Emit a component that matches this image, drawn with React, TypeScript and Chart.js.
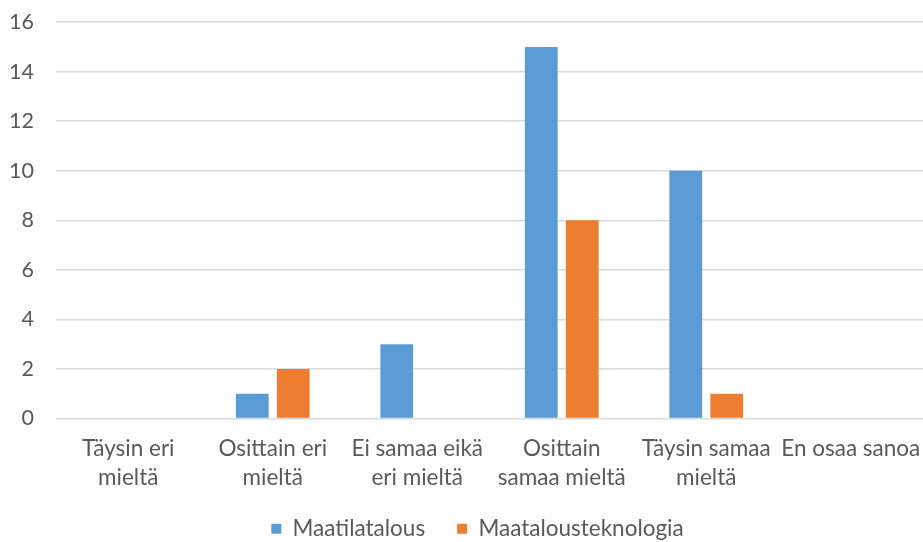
import React, { useEffect, useRef } from "react";
import { Chart, registerables } from "chart.js";

Chart.register(...registerables);

const categories: (string | string[])[] = [
  ["Täysin eri", "mieltä"],
  ["Osittain eri", "mieltä"],
  ["Ei samaa eikä", "eri mieltä"],
  ["Osittain", "samaa mieltä"],
  ["Täysin samaa", "mieltä"],
  "En osaa sanoa",
];
const maatilatalous = [0, 1, 3, 15, 10, 0];
const maatalousteknologia = [0, 2, 0, 8, 1, 0];
const seriesNames = ["Maatilatalous", "Maatalousteknologia"];

const FONT = "Lato, 'Open Sans', sans-serif";
const TEXT = "#595959";

const legendShift = {
  id: "legendShift",
  afterLayout(chart: any) {
    const lg = chart.legend;
    if (lg) {
      lg.left += 16;
      lg.right += 16;
      lg.top -= 9;
      lg.bottom -= 9;
    }
  },
};

export default function App() {
  const ref = useRef<HTMLCanvasElement>(null);
  useEffect(() => {
    document.body.style.margin = "0";
    const chart = new Chart(ref.current!, {
      type: "bar",
      plugins: [legendShift],
      data: {
        labels: categories,
        datasets: [
          {
            label: seriesNames[0],
            data: maatilatalous,
            backgroundColor: "#5B9BD5",
            categoryPercentage: 0.567,
            barPercentage: 0.8,
          },
          {
            label: seriesNames[1],
            data: maatalousteknologia,
            backgroundColor: "#ED7D31",
            categoryPercentage: 0.567,
            barPercentage: 0.8,
          },
        ],
      },
      options: {
        animation: false,
        responsive: false,
        maintainAspectRatio: false,
        layout: { padding: { top: 0, right: 0, bottom: -17, left: 0 } },
        plugins: {
          tooltip: { enabled: false },
          legend: {
            position: "bottom",
            labels: {
              boxWidth: 10,
              boxHeight: 10,
              color: TEXT,
              font: { family: FONT, size: 22.5 },
              padding: 32,
            },
          },
        },
        scales: {
          x: {
            afterFit: (s: any) => {
              s.height = 76;
              s.paddingLeft = 0;
              s.paddingRight = 0;
            },
            grid: { display: false },
            border: { display: false },
            ticks: {
              color: TEXT,
              font: { family: FONT, size: 22.5, lineHeight: 1.29 },
              maxRotation: 0,
              autoSkip: false,
              padding: 8,
            },
          },
          y: {
            min: 0,
            max: 16,
            afterFit: (s: any) => {
              s.width = 56;
            },
            grid: { color: "#D9D9D9", lineWidth: 1.5, drawTicks: false },
            border: { display: false },
            ticks: {
              stepSize: 2,
              color: TEXT,
              font: { family: FONT, size: 21.5, lineHeight: 0.01 },
              padding: 22,
            },
          },
        },
      },
    });
    return () => chart.destroy();
  }, []);
  return <canvas ref={ref} width={923} height={542} style={{ display: "block" }} />;
}
